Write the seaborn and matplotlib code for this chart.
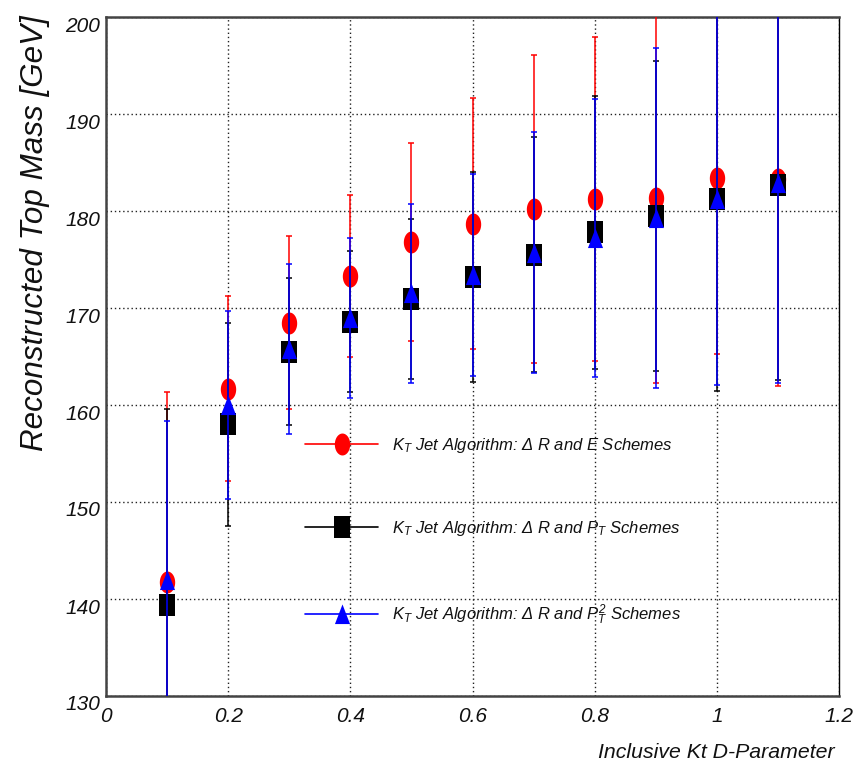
import numpy as np
import pandas as pd
import matplotlib
matplotlib.use("Agg")
import matplotlib.pyplot as plt
import matplotlib.transforms as mtransforms
from matplotlib.lines import Line2D
from matplotlib.ticker import MultipleLocator
import seaborn as sns

# ---------------- data ----------------
d_param = [0.1, 0.2, 0.3, 0.4, 0.5, 0.6, 0.7, 0.8, 0.9, 1.0, 1.1]
mass_e = [141.8, 161.7, 168.5, 173.3, 176.8, 178.7, 180.2, 181.2, 181.3, 183.4, 183.3]
err_e = [19.5, 9.5, 8.9, 8.3, 10.2, 12.9, 15.9, 16.7, 19.0, 18.1, 21.3]
mass_pt = [139.4, 158.0, 165.5, 168.6, 170.9, 173.2, 175.5, 177.8, 179.5, 181.2, 182.7]
err_pt = [20.2, 10.5, 7.6, 7.3, 8.25, 10.8, 12.1, 14.1, 16.0, 19.8, 20.1]
mass_pt2 = [142.0, 160.0, 165.8, 169.0, 171.5, 173.4, 175.7, 177.2, 179.3, 181.2, 182.9]
err_pt2 = [16.4, 9.65, 8.75, 8.25, 9.25, 10.4, 12.4, 14.3, 17.5, 19.1, 20.6]
labels = [r"$K_T$ Jet Algorithm: Δ R and E Schemes",
          r"$K_T$ Jet Algorithm: Δ R and $P_T$ Schemes",
          r"$K_T$ Jet Algorithm: Δ R and $P_T^2$ Schemes"]
colors = ["#ff0000", "#000000", "#0000ff"]
xlabel = "Inclusive Kt D-Parameter"
ylabel = "Reconstructed Top Mass [GeV]"

# ---------------- style ----------------
sns.set_style("white")
plt.rcParams["font.family"] = ["Liberation Sans", "DejaVu Sans"]
plt.rcParams["mathtext.fontset"] = "custom"
plt.rcParams["mathtext.it"] = "Liberation Sans:italic"
plt.rcParams["mathtext.rm"] = "Liberation Sans:italic"
plt.rcParams["mathtext.default"] = "it"

# custom marker shapes (taller than wide, like the reference)
t = np.linspace(0, 2 * np.pi, 60)
ellipse = list(zip(0.70 * np.cos(t), np.sin(t)))
square = [(-0.70, -1), (0.70, -1), (0.70, 1), (-0.70, 1), (-0.70, -1)]
triangle = [(-0.75, -0.95), (0.75, -0.95), (0, 1.0), (-0.75, -0.95)]
markers = [ellipse, square, triangle]
msizes = [15.8, 16.5, 14.5]

fig = plt.figure(figsize=(8.67, 7.68), dpi=100)
ax = fig.add_axes([106 / 867, 1 - 696 / 768, 733 / 867, 679 / 768])

series = [(mass_e, err_e), (mass_pt, err_pt), (mass_pt2, err_pt2)]
for i, ((ys, es), c, m, ms) in enumerate(zip(series, colors, markers, msizes)):
    df = pd.DataFrame({"D": d_param, "mass": ys, "err": es})
    ax.errorbar(df["D"], df["mass"], yerr=df["err"], fmt="none", ecolor=c,
                elinewidth=1.1, capsize=2.2, capthick=1.1, zorder=3 + 2 * i,
                clip_on=True)
    sns.scatterplot(data=df, x="D", y="mass", marker=m, s=ms ** 2, color=c,
                    linewidth=0, ax=ax, zorder=4 + 2 * i, legend=False)

ax.set_xlim(0, 1.2)
ax.set_ylim(130, 200)

# grid
ax.xaxis.set_major_locator(MultipleLocator(0.2))
ax.xaxis.set_minor_locator(MultipleLocator(0.05))
ax.yaxis.set_major_locator(MultipleLocator(10))
ax.yaxis.set_minor_locator(MultipleLocator(2))
ax.grid(True, which="major", color="#222222", linestyle=(0, (1, 2)), linewidth=1.0)
ax.set_axisbelow(True)

ax.tick_params(axis="x", which="major", direction="in", length=13.5, width=1.1,
               color="#333333", pad=8, labelsize=15, top=False)
ax.tick_params(axis="x", which="minor", direction="in", length=8, width=1.1,
               color="#333333", top=False)
ax.tick_params(axis="y", which="major", direction="in", length=15.5, width=1.1,
               color="#333333", pad=4, labelsize=15, right=False)
ax.tick_params(axis="y", which="minor", direction="in", length=8.5, width=1.1,
               color="#333333", right=False)

ax.set_xticks([0, 0.2, 0.4, 0.6, 0.8, 1.0, 1.2])
ax.set_xticklabels(["0", "0.2", "0.4", "0.6", "0.8", "1", "1.2"])
for lab in ax.get_xticklabels() + ax.get_yticklabels():
    lab.set_fontstyle("italic")
    lab.set_color("#111111")
off = mtransforms.ScaledTranslation(0, -7 / 100, fig.dpi_scale_trans)
for lab in ax.get_yticklabels():
    lab.set_transform(lab.get_transform() + off)

for side in ["left", "bottom", "top"]:
    ax.spines[side].set_color("#444444")
    ax.spines[side].set_linewidth(1.8)
ax.spines["right"].set_color("#000000")
ax.spines["right"].set_linewidth(1.0)

ax.set_xlabel(xlabel, fontsize=15.3, fontstyle="italic", color="#111111")
ax.xaxis.set_label_coords(1.0 - 4 / 733, -57 / 679)
ax.xaxis.label.set_ha("right")
ax.xaxis.label.set_va("center")

ax.set_ylabel(ylabel, fontsize=22.6, fontstyle="italic", color="#111111")
ax.yaxis.set_label_coords(-71 / 733, 1.0 + 2 / 679)
ax.yaxis.label.set_ha("right")
ax.yaxis.label.set_va("center")

fs_leg = 12
fs_px = fs_leg * 100 / 72
handles = [Line2D([0], [0], color=c, lw=1.2, marker=m, markersize=ms,
                  markeredgewidth=0, markerfacecolor=c)
           for c, m, ms in zip(colors, markers, msizes)]
leg = ax.legend(handles, labels, loc="upper left",
                bbox_to_anchor=((305 - 106) / 733, (696 - 436) / 679),
                frameon=False, fontsize=fs_leg, handlelength=73 / fs_px,
                handletextpad=14 / fs_px, labelspacing=3.85, borderpad=0,
                borderaxespad=0)
for txt in leg.get_texts():
    txt.set_fontstyle("italic")
    txt.set_color("#111111")

fig.savefig("out.png", dpi=100)
